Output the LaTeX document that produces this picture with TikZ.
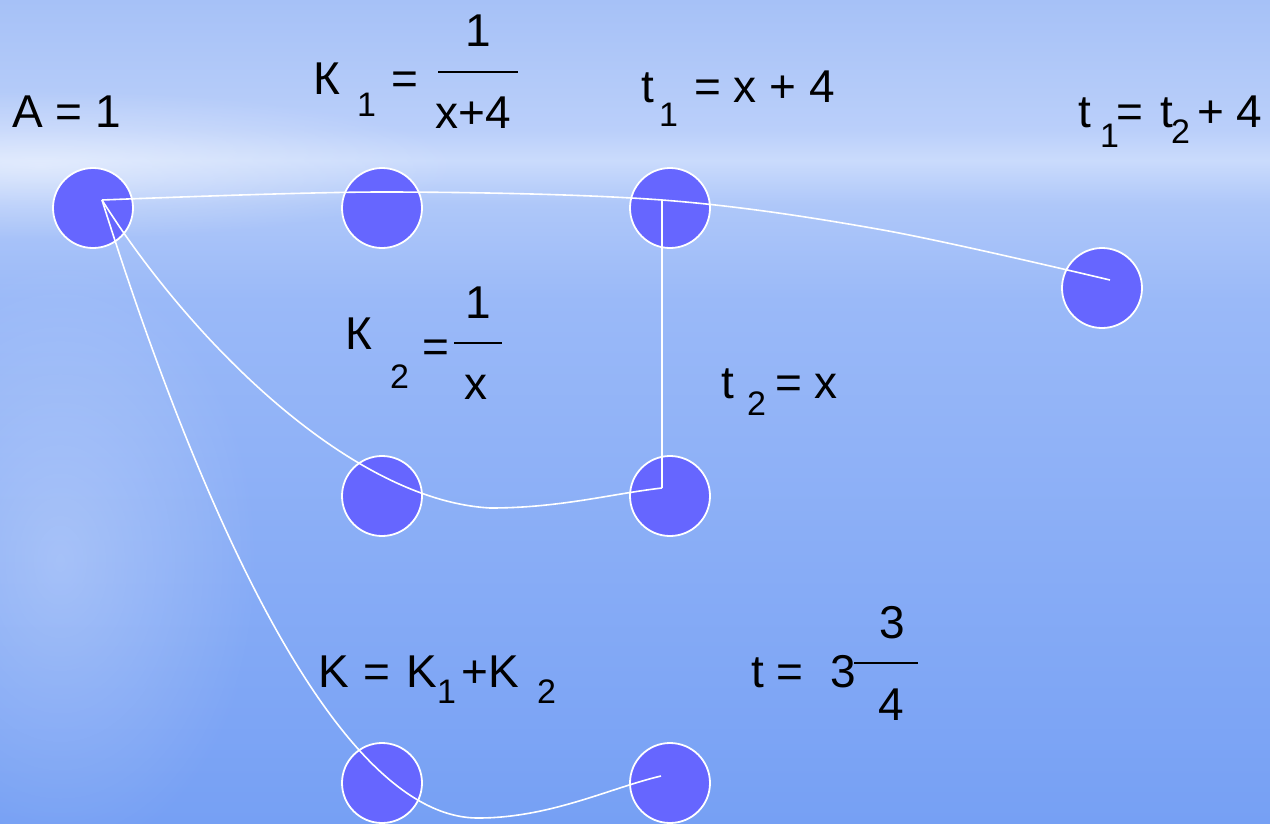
\documentclass[tikz,border=0pt]{standalone}
\usepackage{fontspec}
\setmainfont{Liberation Sans}
\usetikzlibrary{calc,fadings}
\tikzfading[name=glowfade, inner color=transparent!0, outer color=transparent!100]
\definecolor{nodefill}{RGB}{102,102,255}
\definecolor{bgA}{RGB}{166,193,247}
\definecolor{bgB}{RGB}{186,207,250}
\definecolor{bgC}{RGB}{202,219,252}
\definecolor{bgD}{RGB}{174,199,249}
\definecolor{bgE}{RGB}{154,185,248}
\definecolor{bgF}{RGB}{118,160,244}
\begin{document}
\begin{tikzpicture}[x=1pt,y=-1pt,
  dot/.style={circle, draw=white, line width=1.8pt, fill=nodefill, minimum size=80pt, inner sep=0pt},
  conn/.style={draw=white, line width=1.6pt},
  lbl/.style={anchor=base west, inner sep=0pt, text=black, font=\fontsize{46}{46}\selectfont},
  sublbl/.style={anchor=base west, inner sep=0pt, text=black, font=\fontsize{34}{34}\selectfont},
  fracbar/.style={draw=black, line width=2.2pt}]
\useasboundingbox (0,0) rectangle (1270,823);
% background
\fill[top color=bgA, bottom color=bgB] (0,0) rectangle (1270,130);
\fill[top color=bgB, bottom color=bgC] (0,130) rectangle (1270,160);
\fill[top color=bgC, bottom color=bgD] (0,160) rectangle (1270,205);
\fill[top color=bgD, bottom color=bgE] (0,205) rectangle (1270,300);
\fill[top color=bgE, bottom color=bgF] (0,300) rectangle (1270,823);
\fill[white, opacity=0.45, path fading=glowfade] (40,165) ellipse [x radius=420, y radius=75];
\fill[white, opacity=0.25, path fading=glowfade] (60,560) ellipse [x radius=200, y radius=300];
% nodes
\node[dot] (nA)  at (93,208) {};
\node[dot] (nK1) at (382,208) {};
\node[dot] (nT1) at (670,208) {};
\node[dot] (nR)  at (1102,288) {};
\node[dot] (nK2) at (382,496) {};
\node[dot] (nT2) at (670,496) {};
\node[dot] (nK)  at (382,783) {};
\node[dot] (nT)  at (670,783) {};
% connector end points
\coordinate (a0) at ($(nA)+(9,-8)$);
\coordinate (t1a) at ($(nT1)+(-8,-8)$);
\coordinate (rEnd) at ($(nR)+(8,-8)$);
\coordinate (t2a) at ($(nT2)+(-8,-8)$);
\coordinate (tEnd) at ($(nT)+(-9,-7)$);
% connectors
\draw[conn] plot[smooth, tension=0.55] coordinates {(a0) (382,192) (t1a) (883,230) (rEnd)};
\draw[conn] (t1a) -- (t2a);
\draw[conn] (a0) .. controls (190,340) and (350,500) .. (490,508)
                 .. controls (560,508) and (610,494) .. (t2a);
\draw[conn] (a0) .. controls (190,480) and (330,818) .. (478,818)
                 .. controls (550,818) and (610,788) .. (tEnd);
% labels
\node[lbl] (lA) at (12,127) {A = 1};
\node[lbl] (lK1) at (313,94) {К};
\node[sublbl] (lK1s) at (357,116) {1};
\node[lbl] (lK1e) at (391,94) {=};
\node[lbl] (lK1n) at (465,46) {1};
\draw[fracbar] (438,72) -- (518,72);
\node[lbl] (lK1d) at (435,128) {x+4};
\node[lbl] (lT1) at (641,102) {t};
\node[sublbl] (lT1s) at (659,126) {1};
\node[lbl] (lT1e) at (694,102) {= x + 4};
\node[lbl] (lR) at (1078,127) {t};
\node[sublbl] (lRs1) at (1100,147) {1};
\node[lbl] (lRe) at (1116,127) {=};
\node[lbl] (lRt) at (1160,127) {t};
\node[sublbl] (lRs2) at (1171,143) {2};
\node[lbl] (lRp) at (1197,127) {+ 4};
\node[lbl] (lK2) at (345,349) {К};
\node[sublbl] (lK2s) at (390,388) {2};
\node[lbl] (lK2e) at (422,362) {=};
\draw[fracbar] (454,343) -- (502,343);
\node[lbl] (lK2n) at (465,318) {1};
\node[lbl] (lK2d) at (464,399) {x};
\node[lbl] (lT2) at (721,398) {t};
\node[sublbl] (lT2s) at (747,415) {2};
\node[lbl] (lT2e) at (775,398) {= x};
\node[lbl] (lK) at (318,687) {K};
\node[lbl] (lKe) at (363,687) {=};
\node[lbl] (lKb) at (406,687) {K};
\node[sublbl] (lKs1) at (437,703) {1};
\node[lbl] (lKp) at (461,687) {+K};
\node[sublbl] (lKs2) at (537,703) {2};
\node[lbl] (lT) at (751,687) {t =};
\node[lbl] (lT3) at (830,687) {3};
\draw[fracbar] (854,663) -- (918,663);
\node[lbl] (lTn) at (879,638) {3};
\node[lbl] (lTd) at (878,720) {4};
\end{tikzpicture}
\end{document}
